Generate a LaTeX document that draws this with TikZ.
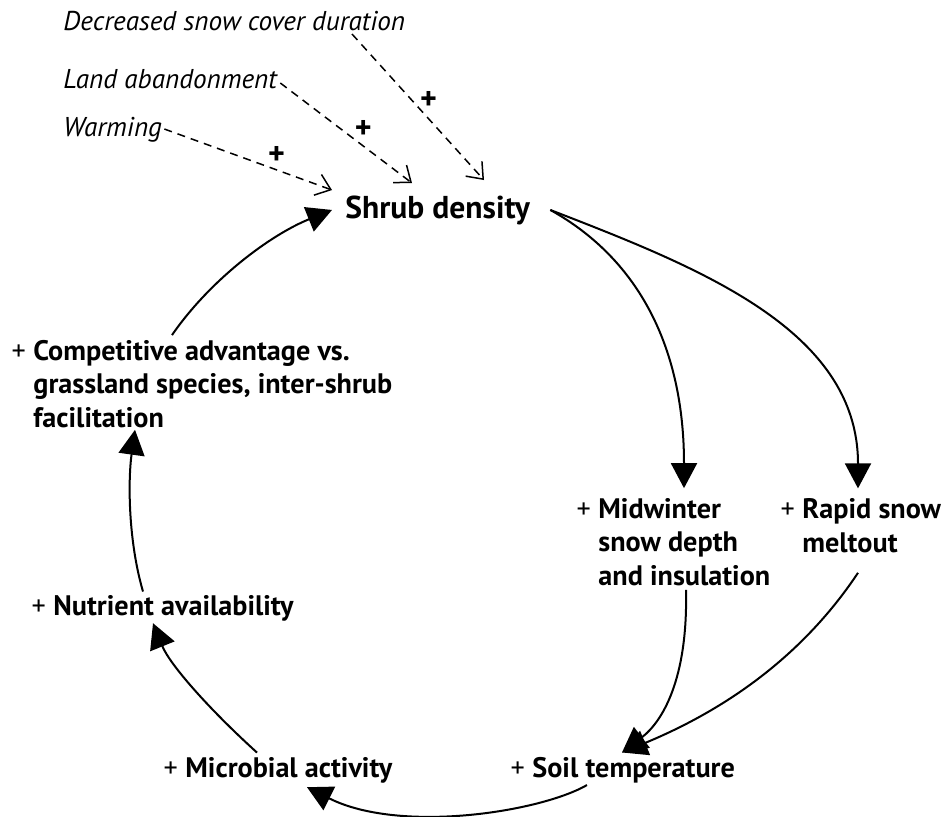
\documentclass[tikz,border=0pt]{standalone}
\usepackage{fontspec}
\setmainfont{PT Sans}
\usetikzlibrary{arrows.meta, calc}
\newcommand{\pl}{\llap{\mdseries+ }}
\tikzset{
  lbl/.style={font=\bfseries\fontsize{14.1}{16.6}\selectfont, inner sep=0pt, anchor=base west, align=left},
  drv/.style={font=\itshape\fontsize{13.6}{15}\selectfont, inner sep=0pt, anchor=base west},
  sgn/.style={font=\bfseries\fontsize{16}{16}\selectfont, inner sep=0pt},
  fb/.style={line width=1pt, -{Triangle[length=12.5pt, width=13pt]}},
  ext/.style={line width=0.75pt, dash pattern=on 4pt off 3pt, -{Straight Barb[length=7pt, width=11pt]}}
}

\begin{document}
\begin{tikzpicture}[x=0.5pt, y=-0.5pt]
\useasboundingbox (0,0) rectangle (947,816);
% drivers
\node[drv] (dsc) at (63,30) {Decreased snow cover duration};
\node[drv] (lnd) at (63,88) {Land abandonment};
\node[drv] (wrm) at (63,136) {Warming};
% central node
\node[inner sep=0pt, anchor=base west, font=\bfseries\fontsize{15.8}{18}\selectfont] (sd) at (345,218) {Shrub density};
% loop nodes (base = last line)
\node[lbl] (comp) at (33,427) {\pl Competitive advantage vs.\\grassland species, inter-shrub\\facilitation};
\node[lbl] (mid) at (598,585) {\pl Midwinter\\snow depth\\and insulation};
\node[lbl] (rap) at (802,552) {\pl Rapid snow\\meltout};
\node[lbl] (nut) at (53,615) {\pl Nutrient availability};
\node[lbl] (mic) at (185,777) {\pl Microbial activity};
\node[lbl] (soil) at (532,777) {\pl Soil temperature};
% external drivers (dashed)
\draw[ext] ($(wrm.base east)+(2,-7)$) -- ($(sd.north west)+(-13,-5)$)
  node[sgn, pos=0.67, yshift=7pt] (p1) {+};
\draw[ext] ($(lnd.base east)+(3,-5)$) -- ($(sd.north west)+(67,-12)$)
  node[sgn, pos=0.6, xshift=2pt, yshift=7pt] (p2) {+};
\draw[ext] ($(dsc.base west)+(289,4)$) -- ($(sd.north west)+(139,-15)$)
  node[sgn, pos=0.55, xshift=2pt, yshift=7pt] (p3) {+};
% shrub density outputs
\draw[fb] ($(sd.east)+(20,0)$) .. controls ($(sd.east)+(110,50)$) and (684,350) .. ($(mid.north west)+(86,-10)$);
\draw[fb] ($(sd.east)+(20,0)$) .. controls ($(sd.east)+(170,58)$) and (858,330) .. ($(rap.north west)+(56,-10)$);
% into soil temperature
\draw[fb] ($(mid.south west)+(88,4)$) .. controls (688,680) and (662,722) .. ($(soil.north west)+(90,-4)$);
\draw[fb] ($(rap.south west)+(56,20)$) .. controls (800,660) and (720,712) .. ($(soil.north west)+(90,-4)$);
% loop back
\draw[fb] ($(soil.south west)+(55,2)$) .. controls (540,812) and (400,834) .. ($(mic.south west)+(122,4)$);
\draw[fb] ($(mic.north west)+(72,-4)$) .. controls (210,710) and (170,665) .. ($(nut.south west)+(100,2)$);
\draw[fb] ($(nut.north west)+(90,-3)$) .. controls (128,540) and (128,480) .. ($(comp.south west)+(102,2)$);
\draw[fb] ($(comp.north west)+(139,-5)$) .. controls (210,280) and (270,235) .. ($(sd.west)+(-13,0)$);
\end{tikzpicture}
\end{document}
